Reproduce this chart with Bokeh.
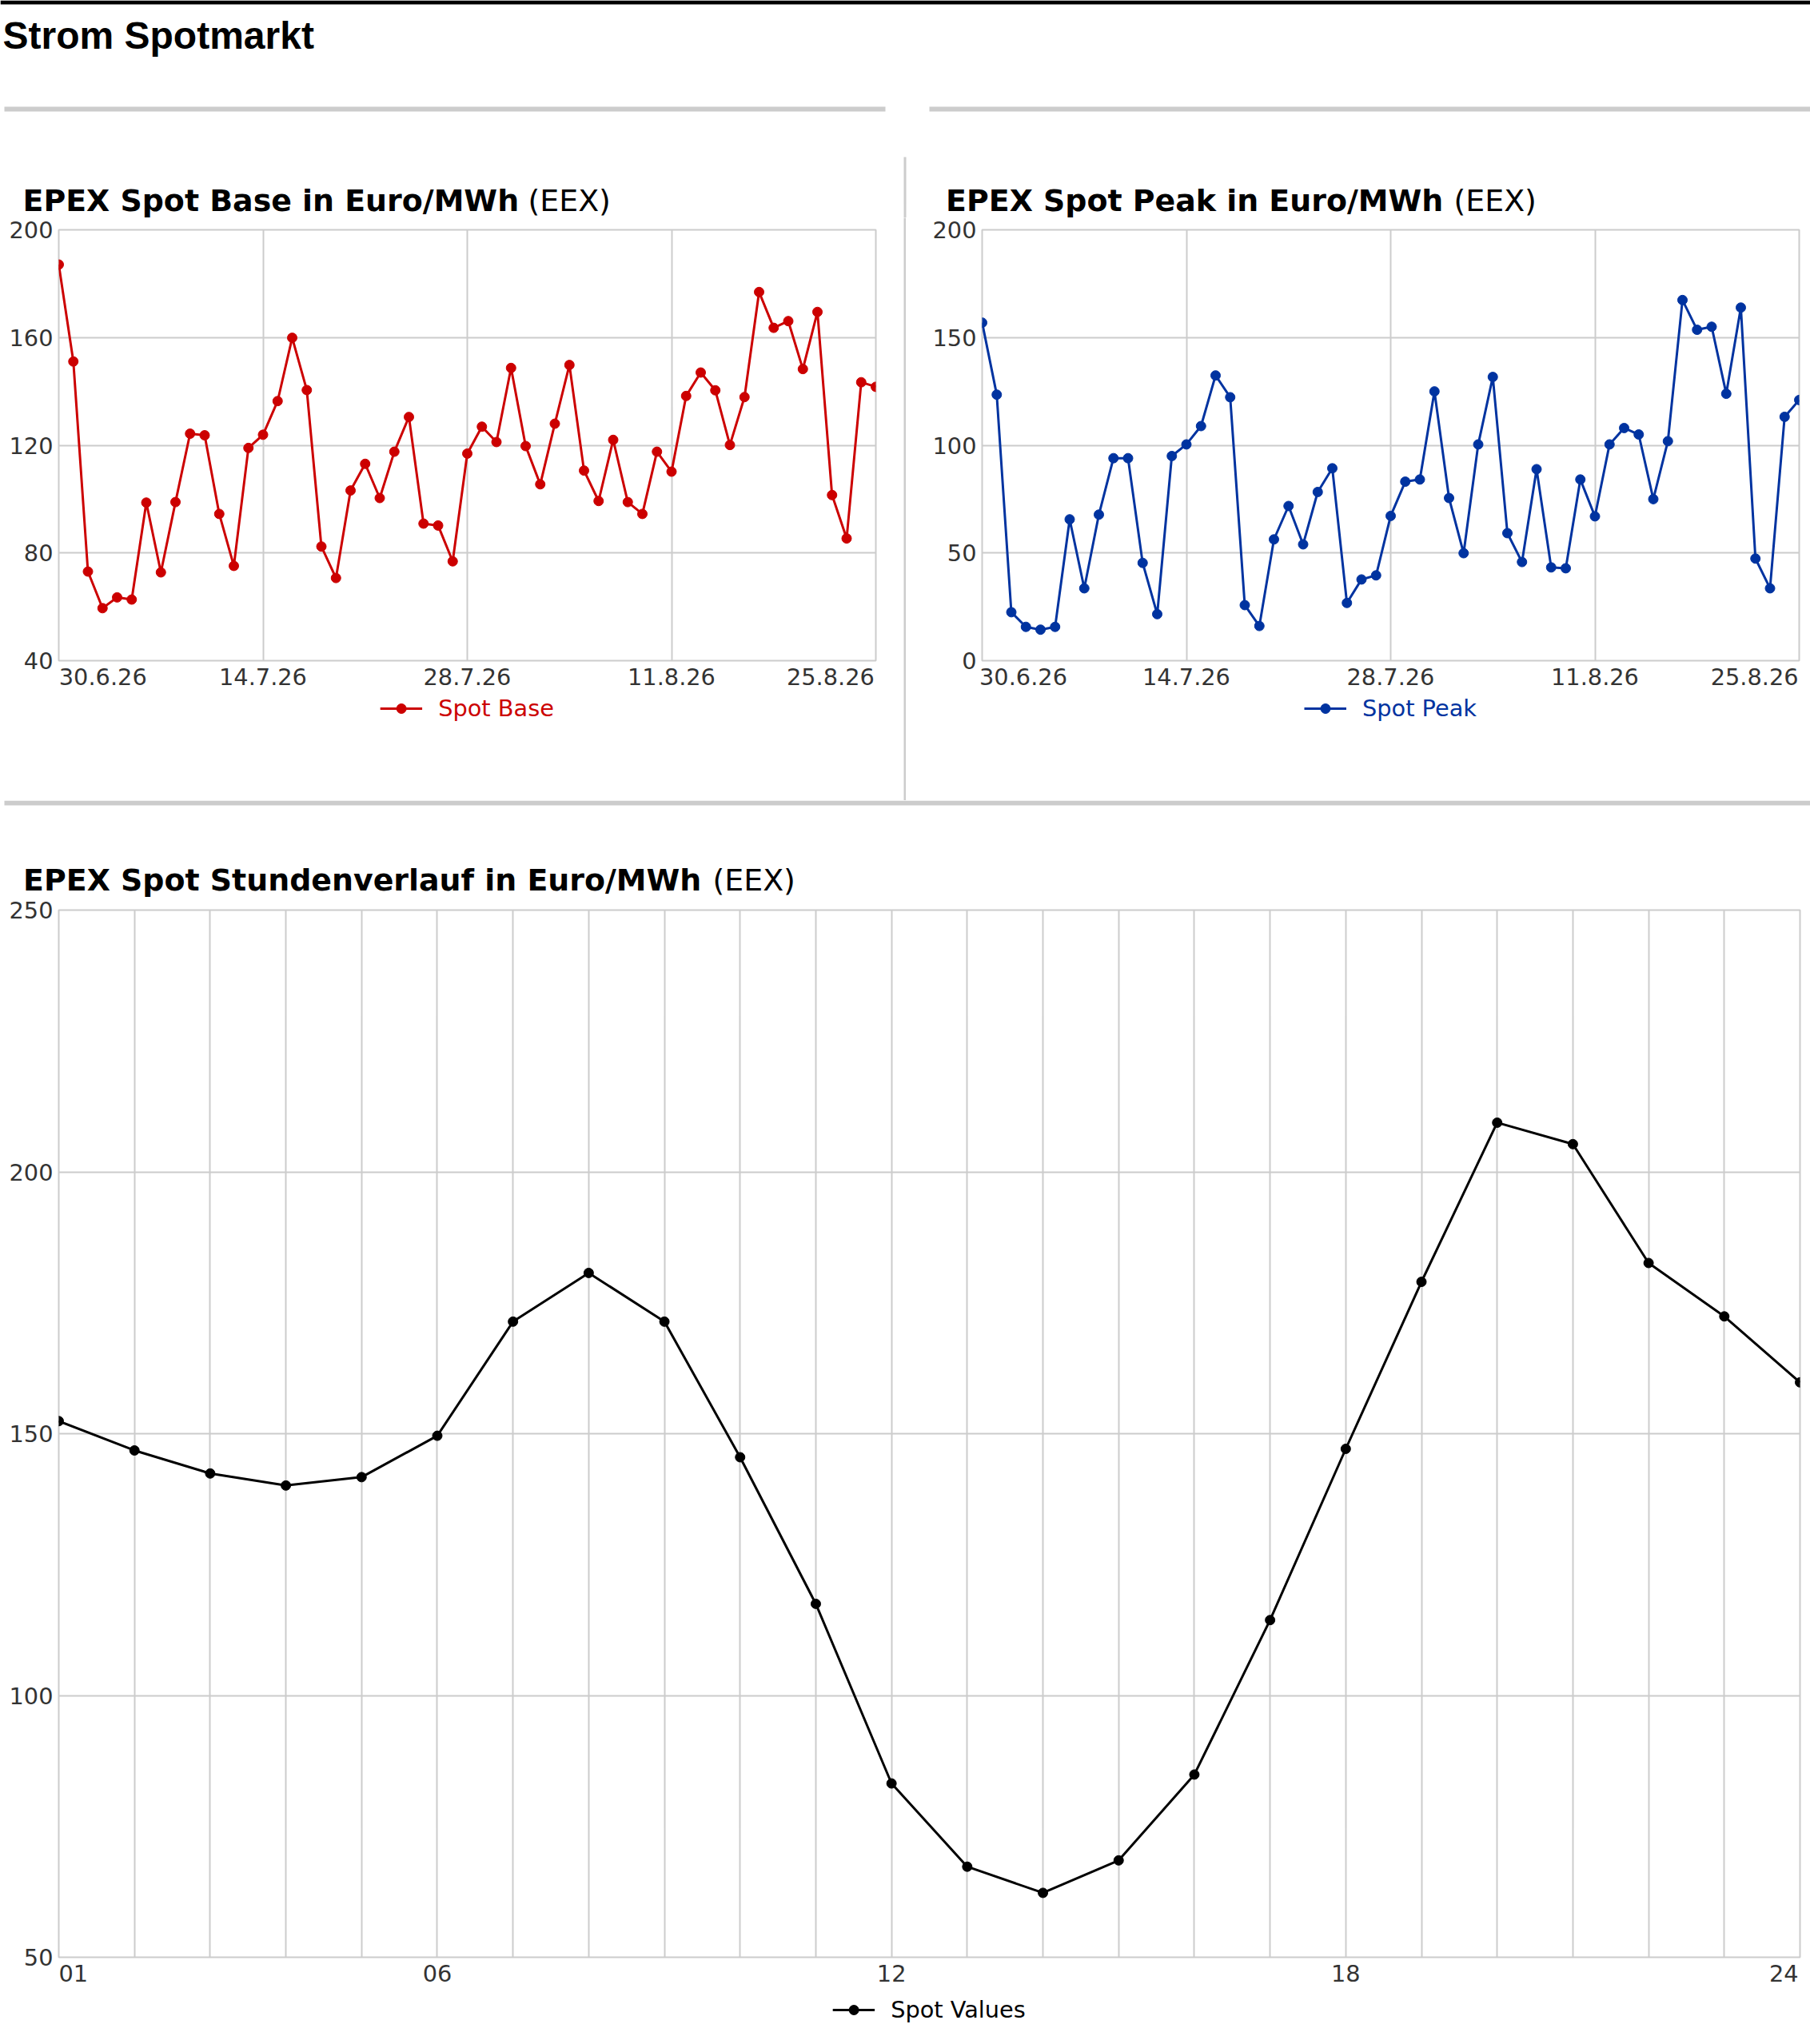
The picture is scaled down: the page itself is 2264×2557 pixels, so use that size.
import pandas as pd
from bokeh.plotting import figure
from bokeh.layouts import column, row
from bokeh.models import Range1d, FixedTicker, Legend, LegendItem, ColumnDataSource
from bokeh.embed import file_html
from bokeh.resources import INLINE
from bokeh.core.properties import value

# ---------------- data ----------------
dates = pd.date_range("2026-06-30", "2026-08-25", freq="D")

base_values = [187.1, 151.1, 73.1, 59.5, 63.5, 62.7, 98.7, 72.8, 98.9, 124.3,
               123.7, 94.5, 75.2, 119.0, 123.9, 136.4, 159.9, 140.5, 82.4, 70.7,
               103.2, 113.1, 100.4, 117.6, 130.5, 90.9, 90.2, 76.9, 116.9, 126.9,
               121.2, 148.7, 119.7, 105.5, 128.0, 149.8, 110.6, 99.3, 122.0, 98.9,
               94.5, 117.6, 110.2, 138.3, 147.0, 140.4, 120.1, 137.9, 176.9, 163.6,
               166.1, 148.3, 169.5, 101.5, 85.4, 143.4, 141.7]

peak_values = [156.9, 123.5, 22.5, 15.7, 14.4, 15.7, 65.6, 33.6, 67.8, 94.0,
               94.0, 45.4, 21.6, 95.0, 100.4, 108.9, 132.4, 122.3, 25.8, 16.1,
               56.3, 71.8, 54.0, 78.3, 89.3, 26.8, 37.7, 39.6, 67.2, 83.1,
               84.1, 125.0, 75.5, 49.9, 100.4, 131.7, 59.2, 45.8, 88.9, 43.3,
               42.9, 84.1, 67.0, 100.4, 108.0, 105.0, 75.0, 101.9, 167.4, 153.6,
               155.0, 123.9, 163.9, 47.4, 33.6, 113.2, 121.0]

hours = list(range(1, 25))
hour_values = [152.4, 146.8, 142.4, 140.1, 141.7, 149.6, 171.4, 180.7, 171.4, 145.5,
               117.5, 83.2, 67.3, 62.3, 68.5, 84.9, 114.4, 147.1, 179.0, 209.4,
               205.3, 182.6, 172.4, 159.8]

date_tick_dates = ["2026-06-30", "2026-07-14", "2026-07-28", "2026-08-11", "2026-08-25"]
date_tick_labels = ["30.6.26", "14.7.26", "28.7.26", "11.8.26", "25.8.26"]
hour_ticks = [1, 6, 12, 18, 24]
hour_tick_labels = ["01", "06", "12", "18", "24"]

base_y_ticks = [40, 80, 120, 160, 200]
peak_y_ticks = [0, 50, 100, 150, 200]
hour_y_ticks = [50, 100, 150, 200, 250]

RED = "#cc0000"
BLUE = "#0033a0"
BLACK = "#000000"
GRID = "#cccccc"
TICK = "#333333"
FONT = "DejaVu Sans"
W = 2264
TITLE_SIZE = "37.9px"

FIG_SP = "\u2007"    # figure space (digit width)
PUN_SP = "\u2008"    # punctuation space (period width)
THIN_SP = "\u2009"   # thin space


def ms(d):
    return pd.Timestamp(d).timestamp() * 1000.0


def bare(**kw):
    f = figure(toolbar_location=None, x_axis_location=None, y_axis_location=None,
               title=None, output_backend="svg", outline_line_color=None, **kw)
    f.grid.visible = False
    return f


def style_axes(p):
    for ax in (p.xaxis, p.yaxis):
        ax.axis_line_color = None
        ax.major_tick_line_color = None
        ax.minor_tick_line_color = None
        ax.major_tick_out = 0
        ax.major_tick_in = 0
        ax.minor_tick_out = 0
        ax.minor_tick_in = 0
        ax.major_label_text_font = FONT
        ax.major_label_text_font_size = "28.8px"
        ax.major_label_text_color = TICK
    p.xaxis.major_label_standoff = 3
    p.yaxis.major_label_standoff = 7
    p.grid.grid_line_color = GRID
    p.grid.grid_line_width = 2
    p.outline_line_color = GRID
    p.outline_line_width = 2


def legend_strip(src, xcol, ycol, fw, mb_left, mb_right, fh, color, label, margin):
    # the legend sits below the chart; its sample glyphs come from renderers of the
    # same data whose points lie outside this strip's (empty) view
    s = bare(frame_width=fw, frame_height=fh, min_border_left=mb_left,
             min_border_right=mb_right, min_border_top=0, min_border_bottom=0,
             x_range=Range1d(-2, -1), y_range=Range1d(-2, -1))
    lr = s.line(x=xcol, y=ycol, source=src, line_color=color, line_width=3)
    sr = s.scatter(x=xcol, y=ycol, source=src, size=12, fill_color=color, line_color=color)
    legend = Legend(items=[LegendItem(label=label, renderers=[lr, sr])],
                    orientation="horizontal", location="top_center",
                    label_text_font=FONT, label_text_font_size="28.8px",
                    label_text_color=color, glyph_width=53, glyph_height=30,
                    label_standoff=20, margin=margin, padding=0,
                    border_line_color=None, background_fill_alpha=0)
    s.add_layout(legend)
    return s


def date_chart(src, ycol, mb_left, mb_right, y_ticks, color, left_pad, right_pad):
    p = figure(frame_width=1022, frame_height=539, x_axis_type="datetime",
               x_range=Range1d(dates[0], dates[-1]),
               y_range=Range1d(y_ticks[0], y_ticks[-1]),
               min_border_left=mb_left, min_border_right=mb_right,
               min_border_top=15, min_border_bottom=42,
               toolbar_location=None, title=None, output_backend="svg")
    style_axes(p)
    tick_ms = [ms(d) for d in date_tick_dates]
    p.xaxis.ticker = FixedTicker(ticks=tick_ms)
    labels = list(date_tick_labels)
    labels[0] = left_pad + labels[0]
    labels[-1] = labels[-1] + right_pad
    p.xaxis.major_label_overrides = dict(zip(tick_ms, labels))
    p.xgrid.ticker = FixedTicker(ticks=tick_ms[1:-1])
    p.yaxis.ticker = FixedTicker(ticks=y_ticks)
    p.line(x="date", y=ycol, source=src, line_color=color, line_width=3)
    p.scatter(x="date", y=ycol, source=src, size=12, fill_color=color, line_color=color)
    return p


daily = ColumnDataSource(data=dict(date=dates, base=base_values, peak=peak_values))
hourly = ColumnDataSource(data=dict(hour=hours, value=hour_values))

# ---------------- header (y 0..272) ----------------
HDR_H = 272
hdr = bare(width=W, height=HDR_H, min_border=0,
           x_range=Range1d(0, W), y_range=Range1d(HDR_H, 0))
hdr.quad(left=[0], right=[W], top=[0], bottom=[5], fill_color="black", line_color=None)
hdr.quad(left=[5, 1162], right=[1107, W], top=[133, 133], bottom=[139, 139],
         fill_color=GRID, line_color=None)
hdr.quad(left=[1130], right=[1133], top=[196], bottom=[HDR_H], fill_color=GRID, line_color=None)
hdr.text(x=[3], y=[44], text=["Strom Spotmarkt"], text_font=value("Liberation Sans"),
         text_font_style="bold", text_font_size="48px", text_color="black",
         text_baseline="alphabetic", text_align="left")
hdr.text(x=[28, 1182.6], y=[250, 250],
         text=["EPEX Spot Base in Euro/MWh", "EPEX Spot Peak in Euro/MWh"],
         text_font=value(FONT), text_font_style="bold", text_font_size=TITLE_SIZE,
         text_color="black", text_baseline="alphabetic", text_align="left")
hdr.text(x=[660, 1818], y=[250, 250], text=["(EEX)", "(EEX)"],
         text_font=value(FONT), text_font_style="normal", text_font_size=TITLE_SIZE,
         text_color="black", text_baseline="alphabetic", text_align="left")

# ---------------- top charts (y 272..1001) ----------------
p_base = date_chart(daily, "base", 73, 35, base_y_ticks, RED,
                    FIG_SP * 4, FIG_SP + PUN_SP * 2)
leg_base = legend_strip(daily, "date", "base", 1022, 73, 35, 133, RED, "Spot Base", 1)
sep = figure(width=3, height=729, min_border=0, toolbar_location=None,
             x_axis_location=None, y_axis_location=None, title=None,
             output_backend="svg", background_fill_color=GRID,
             border_fill_color=GRID, outline_line_color=None)
sep.grid.visible = False
p_peak = date_chart(daily, "peak", 95, 14, peak_y_ticks, BLUE,
                    PUN_SP * 10, PUN_SP + THIN_SP)
leg_peak = legend_strip(daily, "date", "peak", 1022, 95, 14, 133, BLUE, "Spot Peak", 1)

top_row = row(column(p_base, leg_base, spacing=0), sep,
              column(p_peak, leg_peak, spacing=0), spacing=0)

# ---------------- divider + hourly title (y 1001..1123) ----------------
MID_H = 122
mid = bare(width=W, height=MID_H, min_border=0,
           x_range=Range1d(0, W), y_range=Range1d(MID_H, 0))
mid.quad(left=[5], right=[W], top=[0], bottom=[6], fill_color=GRID, line_color=None)
mid.text(x=[28.6], y=[99], text=["EPEX Spot Stundenverlauf in Euro/MWh"],
         text_font=value(FONT), text_font_style="bold", text_font_size=TITLE_SIZE,
         text_color="black", text_baseline="alphabetic", text_align="left")
mid.text(x=[891], y=[99], text=["(EEX)"],
         text_font=value(FONT), text_font_style="normal", text_font_size=TITLE_SIZE,
         text_color="black", text_baseline="alphabetic", text_align="left")

# ---------------- hourly chart (y 1123..2540) ----------------
p_hour = figure(frame_width=2178, frame_height=1310,
                x_range=Range1d(hours[0], hours[-1]),
                y_range=Range1d(hour_y_ticks[0], hour_y_ticks[-1]),
                min_border_left=73, min_border_right=13, min_border_top=15,
                min_border_bottom=42, toolbar_location=None, title=None,
                output_backend="svg")
style_axes(p_hour)
p_hour.xaxis.ticker = FixedTicker(ticks=hour_ticks)
hlabels = list(hour_tick_labels)
hlabels[0] = FIG_SP * 2 + hlabels[0]
hlabels[-1] = hlabels[-1] + PUN_SP + THIN_SP
p_hour.xaxis.major_label_overrides = dict(zip(hour_ticks, hlabels))
p_hour.xgrid.ticker = FixedTicker(ticks=hours)
p_hour.yaxis.ticker = FixedTicker(ticks=hour_y_ticks)
p_hour.line(x="hour", y="value", source=hourly, line_color=BLACK, line_width=3)
p_hour.scatter(x="hour", y="value", source=hourly, size=12, fill_color=BLACK, line_color=BLACK)
leg_hour = legend_strip(hourly, "hour", "value", 2178, 73, 13, 50, BLACK, "Spot Values", 7)

bottom = column(p_hour, leg_hour, spacing=0)

open("out.html", "w").write(file_html([hdr, top_row, mid, bottom], INLINE))
